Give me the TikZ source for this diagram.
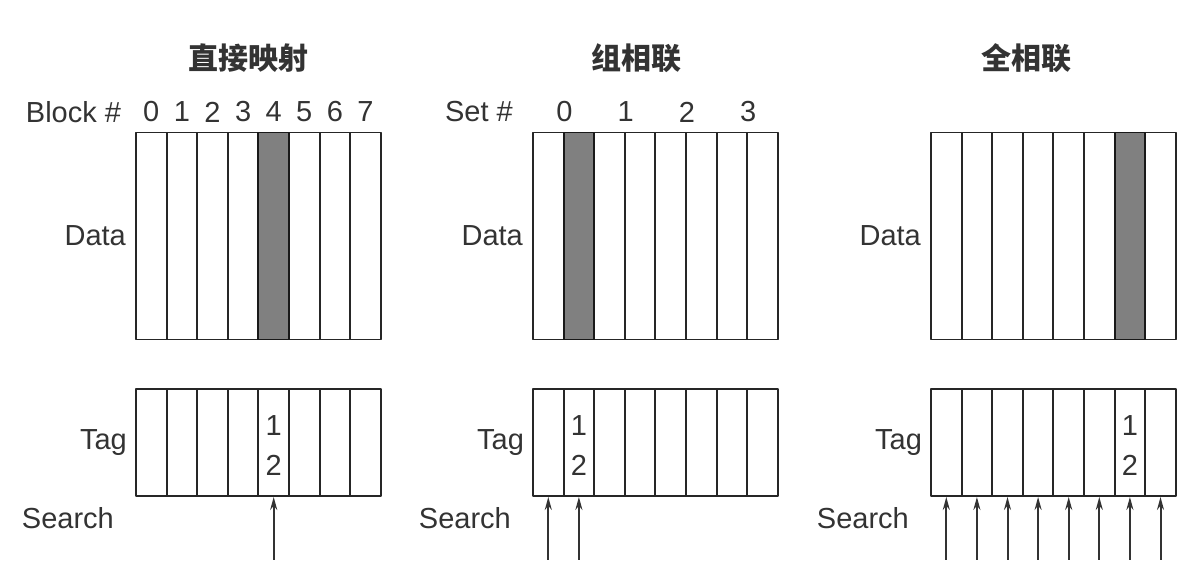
\documentclass[tikz,border=0pt]{standalone}
\usepackage{fontspec}
\setmainfont{Liberation Sans}
\newfontfamily\cjk{Noto Sans CJK SC}
\usetikzlibrary{positioning, arrows.meta}
\begin{document}
\begin{tikzpicture}[x=1pt, y=-1pt, font=\fontsize{29}{33}\selectfont, line join=round]
	\tikzset{col/.style={draw=black!85, line width=1.9pt, minimum width=30.6pt, inner sep=0pt},
		datacol/.style={col, minimum height=207pt},
		tagcol/.style={col, minimum height=107pt},
		hit/.style={fill=black!50, draw=black!90},
		title/.style={font=\cjk\bfseries\fontsize{30}{34}\selectfont, text=black!80},
		lbl/.style={text=black!80, inner sep=0pt},
		search/.style={-{Stealth[length=13pt, width=7pt]}, line width=2pt, draw=black!80}}
	\useasboundingbox (0,0) rectangle (1200,578);
	\foreach \p/\x in {L/136, M/533, R/931}
		\foreach \i in {0,...,7} {
			\node[datacol] (\p d\i) at ({\x+30.6*(\i+0.5)}, 236) {};
			\node[tagcol] (\p t\i) at ({\x+30.6*(\i+0.5)}, 442.5) {};
		}
	\node[datacol, hit] at (Ld4) {};
	\node[datacol, hit] at (Md1) {};
	\node[datacol, hit] at (Rd6) {};
	\node[title] (tL) at (248,58) {直接映射};
	\node[title] (tM) at (636,58) {组相联};
	\node[title] (tR) at (1026,58) {全相联};
	\node[lbl] (blk) at (73.5,112) {Block \#};
	\foreach \i in {0,...,7} \node[lbl] (b\i) at (Ld\i |- blk) {\i};
	\node[lbl] (set) at (479,112) {Set \#};
	\foreach \i/\j in {0/0,1/2,2/4,3/6} \node[lbl] (s\i) at (Md\j.north east |- set) {\i};
	\foreach \p in {L, M, R} {
		\node[lbl, left=9pt of \p d0] (\p data) {Data};
		\node[lbl, left=8pt of \p t0] (\p tag) {Tag};
		\node[lbl, anchor=east] (\p srch) at ([xshift=-21pt, yshift=-21pt]\p t0.south west) {Search};
	}
	\foreach \p/\i in {L/4, M/1, R/6} {
		\node[lbl] (\p one) at ([yshift=17pt]\p t\i.center) {1};
		\node[lbl] (\p two) at ([yshift=-23pt]\p t\i.center) {2};
	}
	\foreach \p/\i in {L/4, M/0, M/1, R/0, R/1, R/2, R/3, R/4, R/5, R/6, R/7} {
		\coordinate (\p a\i) at ([yshift=-63pt]\p t\i.south);
		\draw[search] (\p a\i) -- (\p t\i.south);
	}
\end{tikzpicture}
\end{document}
